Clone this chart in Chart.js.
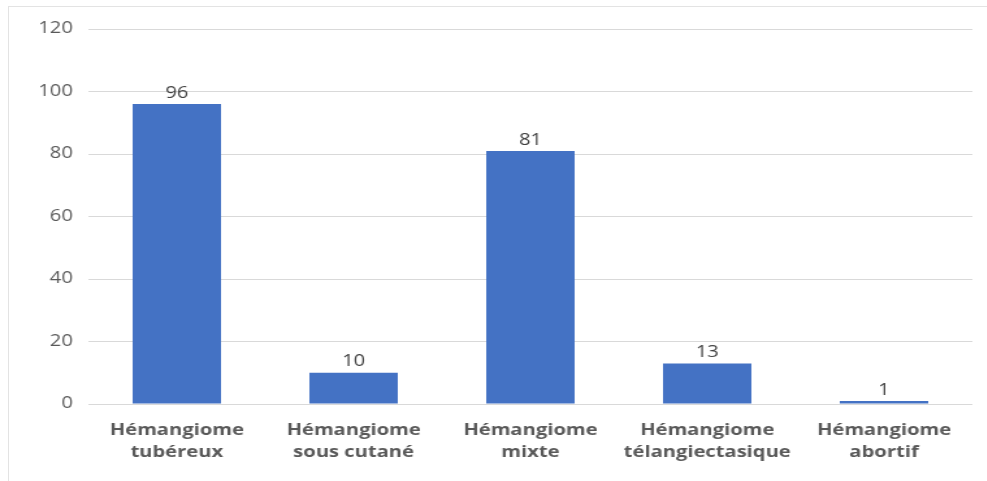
<!DOCTYPE html>
<html>
<head>
<meta charset="utf-8">
<script src="https://cdn.jsdelivr.net/npm/chart.js@4"></script>
<style>
  html, body { margin: 0; padding: 0; background: #fff; overflow: hidden; }
  #frame {
    position: absolute; left: 8px; top: 6px; right: 0; bottom: 0;
    border-left: 1px solid #e3e3e3; border-top: 1px solid #e3e3e3;
  }
  #wrap {
    position: absolute; left: 0; top: 0; width: 759px; height: 481px;
    transform: scaleX(1.3); transform-origin: 0 0;
  }
</style>
</head>
<body>
<div id="frame"></div>
<div id="wrap"><canvas id="barChart" width="759" height="481"></canvas></div>
<script>
var categories = [
    ['Hémangiome', 'tubéreux'],
    ['Hémangiome', 'sous cutané'],
    ['Hémangiome', 'mixte'],
    ['Hémangiome', 'télangiectasique'],
    ['Hémangiome', 'abortif']
];
var counts = [96, 10, 81, 13, 1];
var yTicks = [0, 20, 40, 60, 80, 100, 120];

// value labels above each bar
var valueLabels = {
    id: 'valueLabels',
    afterDatasetsDraw: function (chart) {
        var ctx = chart.ctx;
        var meta = chart.getDatasetMeta(0);
        ctx.save();
        ctx.font = '15.5px "Open Sans"';
        ctx.fillStyle = '#404040';
        ctx.textAlign = 'center';
        ctx.textBaseline = 'bottom';
        meta.data.forEach(function (bar, i) {
            ctx.fillText(counts[i], bar.x, bar.y - 3);
        });
        ctx.restore();
    }
};

var ctx = document.getElementById('barChart').getContext('2d');
var myChart = new Chart(ctx, {
    type: 'bar',
    data: {
        labels: categories,
        datasets: [{
            data: counts,
            backgroundColor: '#4472C4',
            borderWidth: 0,
            barPercentage: 0.5,
            categoryPercentage: 1.0
        }]
    },
    options: {
        responsive: false,
        animation: false,
        layout: { padding: { top: 29, right: 11, bottom: 0, left: 0 } },
        plugins: {
            legend: { display: false },
            tooltip: { enabled: false }
        },
        scales: {
            x: {
                grid: { display: false },
                border: { display: false },
                ticks: {
                    autoSkip: false,
                    maxRotation: 0,
                    padding: 8,
                    color: '#595959',
                    font: { family: 'Open Sans', size: 15.5, weight: 'bold', lineHeight: 1.42 }
                },
                afterFit: function (s) { s.height = 77; }
            },
            y: {
                min: 0,
                max: 120,
                afterBuildTicks: function (s) {
                    s.ticks = yTicks.map(function (v) { return { value: v }; });
                },
                grid: { color: '#d9d9d9', drawTicks: false },
                border: { display: false },
                ticks: {
                    padding: 12,
                    color: '#595959',
                    font: { family: 'Open Sans', size: 15.5 }
                },
                afterFit: function (s) { s.width = 68; }
            }
        }
    },
    plugins: [valueLabels]
});
</script>
</body>
</html>
